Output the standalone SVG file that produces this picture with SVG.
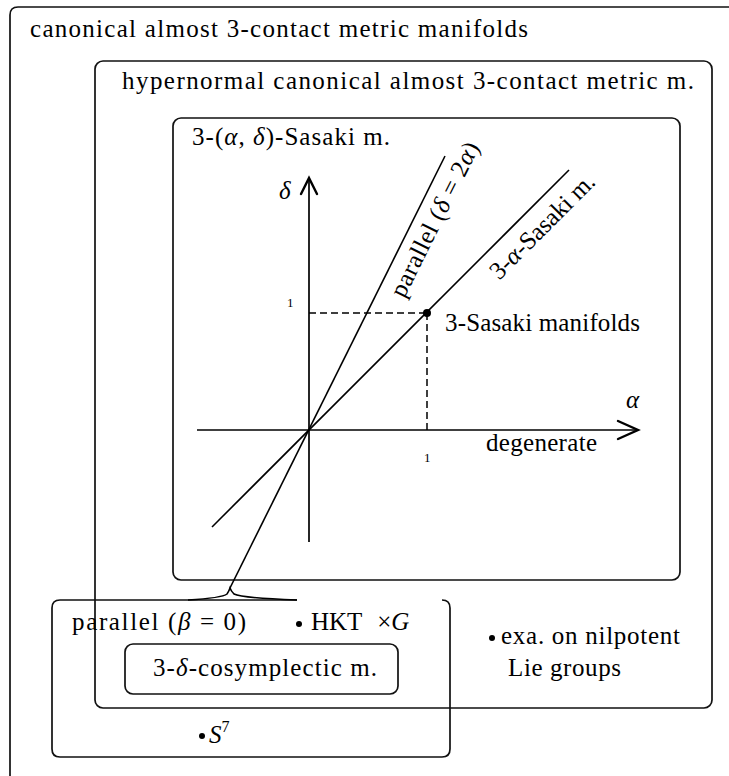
<svg xmlns="http://www.w3.org/2000/svg" width="729" height="776" viewBox="0 0 729 776">
<style>
.box{fill:none;stroke:#111;stroke-width:1.7}
.ln{fill:none;stroke:#000;stroke-width:1.6}
.ax{fill:none;stroke:#000;stroke-width:1.7}
.arr{fill:none;stroke:#000;stroke-width:2.4;stroke-linecap:round;stroke-linejoin:miter}
.dash{fill:none;stroke:#000;stroke-width:1.5;stroke-dasharray:7 4}
text{font-family:"Liberation Serif","Times New Roman",serif;font-size:25px;fill:#000}
.it{font-style:italic}
.sm{font-size:13px}
</style>
<rect width="729" height="776" fill="#fff"/>
<g id="outer">
<path class="box" d="M10,776 V15 Q10,7 18,7 H729"/>
<text x="30" y="37" textLength="498">canonical almost 3-contact metric manifolds</text>
</g>
<g id="hypernormal">
<rect class="box" x="95" y="61" width="617" height="647" rx="8"/>
<text x="122" y="89" textLength="572">hypernormal canonical almost 3-contact metric m.</text>
</g>
<g id="sasaki">
<rect class="box" x="173" y="118" width="507" height="462" rx="8"/>
<text x="192" y="145" textLength="198">3-(<tspan class="it">α</tspan>, <tspan class="it">δ</tspan>)-Sasaki m.</text>
</g>
<g id="parallel">
<path class="box" d="M297,600 H60 Q52,600 52,608 V749 Q52,757 60,757 H442 Q450,757 450,749 V608 Q450,600 442,600"/>
<text x="72" y="630" textLength="174">parallel (<tspan class="it">β</tspan> = 0)</text>
</g>
<g id="cosymplectic">
<rect class="box" x="125" y="644" width="273" height="50" rx="8"/>
<text x="153" y="676" textLength="224">3-<tspan class="it">δ</tspan>-cosymplectic m.</text>
</g>
<g id="hkt">
<circle cx="299" cy="624" r="3" fill="#000"/>
<text x="311" y="630">HKT <tspan dx="9">×</tspan><tspan class="it">G</tspan></text>
</g>
<g id="nilpotent">
<circle cx="492" cy="638" r="3" fill="#000"/>
<text x="501" y="644" textLength="179">exa. on nilpotent</text>
<text x="508" y="676" textLength="113">Lie groups</text>
</g>
<g id="s7">
<circle cx="202" cy="736" r="3" fill="#000"/>
<text x="209" y="743"><tspan class="it">S</tspan><tspan dy="-11" style="font-size:16px">7</tspan></text>
</g>
<g id="plot">
<line class="ax" x1="197" y1="430" x2="637" y2="430"/>
<line class="ax" x1="309" y1="542" x2="309" y2="180"/>
<path class="arr" d="M618,421 L638,430 L618,439"/>
<path class="arr" d="M301,194 L309,178 L317,194"/>
<text x="279" y="199" class="it">δ</text>
<text x="626" y="408" class="it">α</text>
<line class="dash" x1="309" y1="313" x2="427" y2="313"/>
<line class="dash" x1="427" y1="313" x2="427" y2="433"/>
<text x="287" y="307" class="sm">1</text>
<text x="424" y="462" class="sm">1</text>
<circle cx="427" cy="313" r="4" fill="#000"/>
<text x="445" y="331" textLength="195">3-Sasaki manifolds</text>
<text x="486" y="451" textLength="111">degenerate</text>
<text transform="translate(442,223) rotate(-63.5)" text-anchor="middle" textLength="170">parallel (<tspan class="it">δ</tspan> = 2<tspan class="it">α</tspan>)</text>
<text transform="translate(548,232) rotate(-45)" text-anchor="middle" textLength="138">3-<tspan class="it">α</tspan>-Sasaki m.</text>
</g>
<g id="connectors">
<line class="ln" x1="212" y1="527" x2="569" y2="170"/>
<line class="ln" x1="445" y1="156" x2="230" y2="588"/>
<path class="ln" d="M188,600 Q222,598 227,594 Q229,591 230,588 Q231,591 234,594 Q242,598 297,600"/>
</g>
</svg>
